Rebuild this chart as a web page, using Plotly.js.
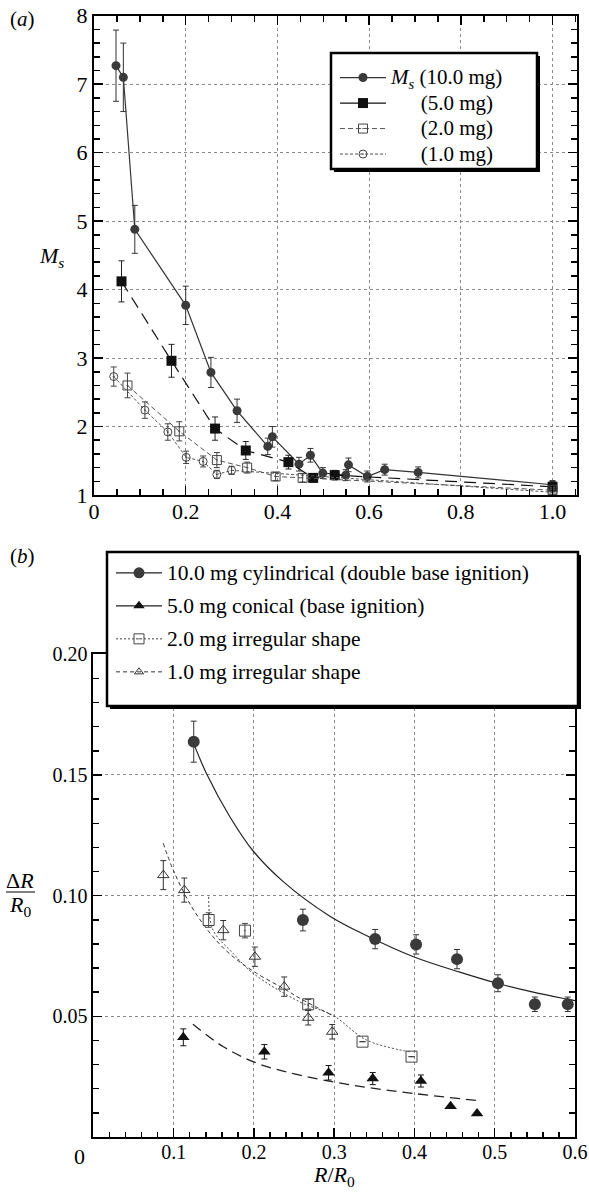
<!DOCTYPE html>
<html>
<head>
<meta charset="utf-8">
<script src="https://cdn.plot.ly/plotly-3.0.1.min.js"></script>
<style>html,body{margin:0;padding:0;background:#fff;}#chart{width:589px;height:1192px;}</style>
</head>
<body>
<div id="chart"></div>
<script>
// ---------- Panel (a): M_s versus R/R0 ----------
const a_x10 = [0.048, 0.064, 0.089, 0.200, 0.255, 0.312, 0.379, 0.389, 0.447, 0.472, 0.499, 0.549, 0.555, 0.596, 0.634, 0.707, 1.0];
const a_y10 = [7.27, 7.10, 4.88, 3.77, 2.79, 2.23, 1.71, 1.85, 1.45, 1.58, 1.32, 1.29, 1.44, 1.27, 1.37, 1.33, 1.15];
const a_e10 = [0.52, 0.50, 0.35, 0.28, 0.22, 0.17, 0.12, 0.15, 0.10, 0.10, 0.08, 0.08, 0.10, 0.08, 0.08, 0.08, 0.06];

const a_x5 = [0.060, 0.169, 0.264, 0.331, 0.424, 0.478, 0.525, 1.0];
const a_y5 = [4.12, 2.96, 1.97, 1.65, 1.48, 1.25, 1.29, 1.12];
const a_e5 = [0.30, 0.24, 0.17, 0.13, 0.10, 0.06, 0.07, 0.05];

const a_x2 = [0.073, 0.186, 0.268, 0.334, 0.396, 0.455, 1.0];
const a_y2 = [2.60, 1.93, 1.51, 1.40, 1.27, 1.25, 1.07];
const a_e2 = [0.18, 0.14, 0.11, 0.08, 0.06, 0.06, 0.04];

const a_x1 = [0.043, 0.111, 0.161, 0.201, 0.238, 0.268, 0.300, 1.0];
const a_y1 = [2.73, 2.24, 1.92, 1.55, 1.49, 1.30, 1.36, 1.04];
const a_e1 = [0.14, 0.12, 0.12, 0.09, 0.08, 0.06, 0.06, 0.04];

const a_xticks = [0, 0.2, 0.4, 0.6, 0.8, 1.0];
const a_xlabels = ['0', '0.2', '0.4', '0.6', '0.8', '1.0'];
const a_yticks = [1, 2, 3, 4, 5, 6, 7, 8];
const a_ylabels = ['1', '2', '3', '4', '5', '6', '7', '8'];
const a_names = ['<i>M<sub>s</sub></i> (10.0 mg)', '\u2003\u2005\u2006(5.0 mg)', '\u2003\u2005\u2006(2.0 mg)', '\u2003\u2005\u2006(1.0 mg)'];

// ---------- Panel (b): ΔR/R0 versus R/R0 ----------
const b_x10 = [0.125, 0.261, 0.351, 0.402, 0.453, 0.504, 0.550, 0.591];
const b_y10 = [0.1638, 0.0899, 0.0820, 0.0798, 0.0737, 0.0637, 0.0550, 0.0550];
const b_e10 = [0.0085, 0.0045, 0.0040, 0.0040, 0.0040, 0.0035, 0.0030, 0.0030];
const fit10_x = [0.125, 0.141, 0.170, 0.199, 0.2365, 0.2946, 0.340, 0.398, 0.4565, 0.506, 0.548, 0.589, 0.600];
const fit10_y = [0.1630, 0.1505, 0.1327, 0.1185, 0.1058, 0.0915, 0.0835, 0.0748, 0.0683, 0.0634, 0.0600, 0.0572, 0.0565];

const b_x5 = [0.112, 0.213, 0.293, 0.348, 0.408, 0.445, 0.478];
const b_y5 = [0.0413, 0.0353, 0.0266, 0.0242, 0.0232, 0.0127, 0.0097];
const b_e5 = [0.0035, 0.0030, 0.0030, 0.0025, 0.0025, 0.0, 0.0];
const fit5_x = [0.124, 0.162, 0.2045, 0.256, 0.322, 0.3975, 0.482];
const fit5_y = [0.0467, 0.0374, 0.0305, 0.0257, 0.0215, 0.0181, 0.0150];

const b_x2 = [0.1436, 0.1888, 0.2676, 0.3353, 0.3963];
const b_y2 = [0.0899, 0.0855, 0.0550, 0.0395, 0.0333];
const b_e2 = [0.0030, 0.0030, 0.0020, 0.0, 0.0];
const fit2_x = [0.1436, 0.149, 0.174, 0.199, 0.257, 0.2988, 0.340, 0.394];
const fit2_y = [0.0995, 0.0858, 0.0761, 0.0678, 0.0560, 0.0503, 0.0402, 0.0353];

const b_x1 = [0.0871, 0.1132, 0.1618, 0.2012, 0.2377, 0.2676, 0.2975];
const b_y1 = [0.1085, 0.1023, 0.0857, 0.0747, 0.0623, 0.0494, 0.0436];
const b_e1 = [0.006, 0.005, 0.004, 0.004, 0.004, 0.003, 0.003];
const fit1_x = [0.087, 0.0995, 0.1224, 0.149, 0.174, 0.2034, 0.2365, 0.257, 0.300];
const fit1_y = [0.1217, 0.1106, 0.0954, 0.0830, 0.0747, 0.0678, 0.0616, 0.0575, 0.0500];

const b_xticks = [0.1, 0.2, 0.3, 0.4, 0.5, 0.6];
const b_xlabels = ['0.1', '0.2', '0.3', '0.4', '0.5', '0.6'];
const b_yticks = [0.05, 0.10, 0.15, 0.20];
const b_ylabels = ['0.05', '0.10', '0.15', '0.20'];
const b_names = ['10.0 mg cylindrical (double base ignition)', '5.0 mg conical (base ignition)', '2.0 mg irregular shape', '1.0 mg irregular shape'];

// ---------- helpers ----------
const W = 589, H = 1192;
const px = v => v / W;
const py = v => 1 - v / H;
const FONT = '"Liberation Serif", "Times New Roman", serif';
const big = (t, s) => '<span style="font-size:' + s + 'px">' + t + '</span>';

function err(arr, color) {
  return {type: 'data', array: arr, visible: true, color: color, thickness: 1, width: 3};
}

const traces = [];
// Panel (a) data traces
traces.push({x: a_x10, y: a_y10, error_y: err(a_e10, '#333'), mode: 'lines+markers', showlegend: false,
  line: {color: '#333', width: 1.2}, marker: {symbol: 'circle', size: 9, color: '#3a3a3a'}, xaxis: 'x', yaxis: 'y'});
traces.push({x: a_x5, y: a_y5, error_y: err(a_e5, '#222'), mode: 'lines+markers', showlegend: false,
  line: {color: '#111', width: 1.2, dash: '12px,7px'}, marker: {symbol: 'square', size: 10, color: '#111'}, xaxis: 'x', yaxis: 'y'});
traces.push({x: a_x2, y: a_y2, error_y: err(a_e2, '#444'), mode: 'lines+markers', showlegend: false,
  line: {color: '#555', width: 1, dash: '5px,3px'}, marker: {symbol: 'square-open-dot', size: 9, color: '#444', line: {width: 1}}, xaxis: 'x', yaxis: 'y'});
traces.push({x: a_x1, y: a_y1, error_y: err(a_e1, '#444'), mode: 'lines+markers', showlegend: false,
  line: {color: '#555', width: 1, dash: '3px,2px'}, marker: {symbol: 'circle-open-dot', size: 8, color: '#444', line: {width: 1}}, xaxis: 'x', yaxis: 'y'});
// Panel (a) legend entries
const aStyles = [
  {line: {color: '#333', width: 1.2}, marker: {symbol: 'circle', size: 9, color: '#3a3a3a'}},
  {line: {color: '#111', width: 1.2}, marker: {symbol: 'square', size: 10, color: '#111'}},
  {line: {color: '#555', width: 1, dash: '5px,3px'}, marker: {symbol: 'square-open-dot', size: 9, color: '#444', line: {width: 1}}},
  {line: {color: '#555', width: 1, dash: '3px,2px'}, marker: {symbol: 'circle-open-dot', size: 8, color: '#444', line: {width: 1}}}
];
a_names.forEach((n, i) => traces.push(Object.assign({x: [null], y: [null], name: big(n, 21), mode: 'lines+markers',
  legend: 'legend', legendgroup: 'a' + i, xaxis: 'x', yaxis: 'y'}, aStyles[i])));

// Panel (b) fit curves
traces.push({x: fit10_x, y: fit10_y, mode: 'lines', showlegend: false, line: {color: '#222', width: 1.2, shape: 'spline'}, xaxis: 'x2', yaxis: 'y2'});
traces.push({x: fit5_x, y: fit5_y, mode: 'lines', showlegend: false, line: {color: '#222', width: 1.3, dash: '10px,6px', shape: 'spline'}, xaxis: 'x2', yaxis: 'y2'});
traces.push({x: fit2_x, y: fit2_y, mode: 'lines', showlegend: false, line: {color: '#444', width: 1, dash: '2px,2px', shape: 'spline'}, xaxis: 'x2', yaxis: 'y2'});
traces.push({x: fit1_x, y: fit1_y, mode: 'lines', showlegend: false, line: {color: '#333', width: 1, dash: '4px,3px', shape: 'spline'}, xaxis: 'x2', yaxis: 'y2'});
// Panel (b) markers
traces.push({x: b_x10, y: b_y10, error_y: err(b_e10, '#333'), mode: 'markers', showlegend: false,
  marker: {symbol: 'circle', size: 12, color: '#3a3a3a'}, xaxis: 'x2', yaxis: 'y2'});
traces.push({x: b_x5, y: b_y5, error_y: err(b_e5, '#111'), mode: 'markers', showlegend: false,
  marker: {symbol: 'triangle-up', size: 11, color: '#111'}, xaxis: 'x2', yaxis: 'y2'});
traces.push({x: b_x2, y: b_y2, error_y: err(b_e2, '#444'), mode: 'markers', showlegend: false,
  marker: {symbol: 'square-open-dot', size: 11, color: '#444', line: {width: 1}}, xaxis: 'x2', yaxis: 'y2'});
traces.push({x: b_x1, y: b_y1, error_y: err(b_e1, '#333'), mode: 'markers', showlegend: false,
  marker: {symbol: 'triangle-up-open', size: 10, color: '#333', line: {width: 1}}, xaxis: 'x2', yaxis: 'y2'});
// Panel (b) legend entries
const bStyles = [
  {line: {color: '#222', width: 1.2}, marker: {symbol: 'circle', size: 11, color: '#3a3a3a'}},
  {line: {color: '#222', width: 1.2}, marker: {symbol: 'triangle-up', size: 10, color: '#111'}},
  {line: {color: '#444', width: 1, dash: '2px,2px'}, marker: {symbol: 'square-open-dot', size: 10, color: '#444', line: {width: 1}}},
  {line: {color: '#333', width: 1, dash: '4px,3px'}, marker: {symbol: 'triangle-up-open', size: 8, color: '#333', line: {width: 1}}}
];
b_names.forEach((n, i) => traces.push(Object.assign({x: [null], y: [null], name: big(n, 21.5), mode: 'lines+markers',
  legend: 'legend2', legendgroup: 'b' + i, xaxis: 'x2', yaxis: 'y2'}, bStyles[i])));

function axisStyle(size, extra) {
  return Object.assign({
    showline: true, linewidth: 2, linecolor: '#000', mirror: 'ticks',
    ticks: 'inside', ticklen: 9, tickwidth: 1.5, tickcolor: '#000',
    showgrid: true, gridcolor: '#8a8a8a', griddash: 'dot', gridwidth: 1,
    zeroline: false, tickmode: 'array',
    tickfont: {family: FONT, size: size, color: '#000'}
  }, extra);
}

function ann(text, x, y, size) {
  return {text: text, x: px(x), y: py(y), xref: 'paper', yref: 'paper', xanchor: 'center', yanchor: 'middle',
    showarrow: false, font: {family: FONT, size: size, color: '#000'}};
}

const layout = {
  width: W, height: H,
  margin: {l: 0, r: 0, t: 0, b: 0},
  paper_bgcolor: '#fff', plot_bgcolor: '#fff',
  font: {family: FONT, color: '#000'},
  xaxis: axisStyle(22, {domain: [px(94), px(576.7)], range: [0, 1.0527], anchor: 'y', ticklabelstandoff: -4,
    tickvals: a_xticks, ticktext: a_xlabels,
    minor: {tick0: 0, dtick: 0.05, ticks: 'inside', ticklen: 6, tickwidth: 1.5, tickcolor: '#000', showgrid: false}}),
  yaxis: axisStyle(22, {domain: [py(495), py(15.7)], range: [1, 8], anchor: 'x',
    tickvals: a_yticks, ticktext: a_ylabels,
    minor: {tick0: 1, dtick: 0.2, ticks: 'inside', ticklen: 6, tickwidth: 1.5, tickcolor: '#000', showgrid: false}}),
  xaxis2: axisStyle(20, {domain: [px(93.4), px(575)], range: [0, 0.6], anchor: 'y2', ticklabelstandoff: -4,
    tickvals: b_xticks, ticktext: b_xlabels,
    minor: {tick0: 0, dtick: 0.02, ticks: 'inside', ticklen: 5, tickwidth: 1.5, tickcolor: '#000', showgrid: false}}),
  yaxis2: axisStyle(20, {domain: [py(1137), py(654.3)], range: [0, 0.2], anchor: 'x2',
    tickvals: b_yticks, ticktext: b_ylabels,
    minor: {tick0: 0, dtick: 0.01, ticks: 'inside', ticklen: 6, tickwidth: 1.5, tickcolor: '#000', showgrid: false}}),
  legend: {x: px(335), y: py(60), xanchor: 'left', yanchor: 'top', bgcolor: 'rgba(0,0,0,0)', borderwidth: 0,
    font: {family: FONT, size: 17, color: '#000'}, itemwidth: 46, tracegroupgap: 0.4, traceorder: 'grouped'},
  legend2: {x: px(111), y: py(554), xanchor: 'left', yanchor: 'top', bgcolor: 'rgba(0,0,0,0)', borderwidth: 0,
    font: {family: FONT, size: 19, color: '#000'}, itemwidth: 46, tracegroupgap: 5.3, traceorder: 'grouped'},
  shapes: [
    // panel (a) legend box with shadow
    {type: 'rect', xref: 'paper', yref: 'paper', layer: 'above', x0: px(334), x1: px(540), y0: py(172), y1: py(56), fillcolor: '#000', line: {width: 0}},
    {type: 'rect', xref: 'paper', yref: 'paper', layer: 'above', x0: px(331), x1: px(537), y0: py(169), y1: py(53), fillcolor: '#fff', line: {color: '#000', width: 2.5}},
    // panel (b) legend box with shadow
    {type: 'rect', xref: 'paper', yref: 'paper', layer: 'above', x0: px(110), x1: px(581), y0: py(709), y1: py(555), fillcolor: '#000', line: {width: 0}},
    {type: 'rect', xref: 'paper', yref: 'paper', layer: 'above', x0: px(107), x1: px(578), y0: py(706), y1: py(552), fillcolor: '#fff', line: {color: '#000', width: 2.5}},
    // fraction bar of the y label in panel (b)
    {type: 'line', xref: 'paper', yref: 'paper', x0: px(6), x1: px(35), y0: py(892), y1: py(892), line: {color: '#000', width: 1}}
  ],
  annotations: [
    ann('(<i>a</i>)', 22, 19, 21),
    ann('(<i>b</i>)', 22, 556, 21),
    ann('<i>M<sub>s</sub></i>', 51, 257, 22),
    ann('Δ<i>R</i>', 20, 880, 22),
    ann('<i>R</i><sub>0</sub>', 20, 906, 22),
    ann('0', 79, 1156, 22),
    ann('<i>R</i>/<i>R</i><sub>0</sub>', 334, 1176, 22)
  ]
};

Plotly.newPlot('chart', traces, layout, {staticPlot: true, displayModeBar: false});
</script>
</body>
</html>
